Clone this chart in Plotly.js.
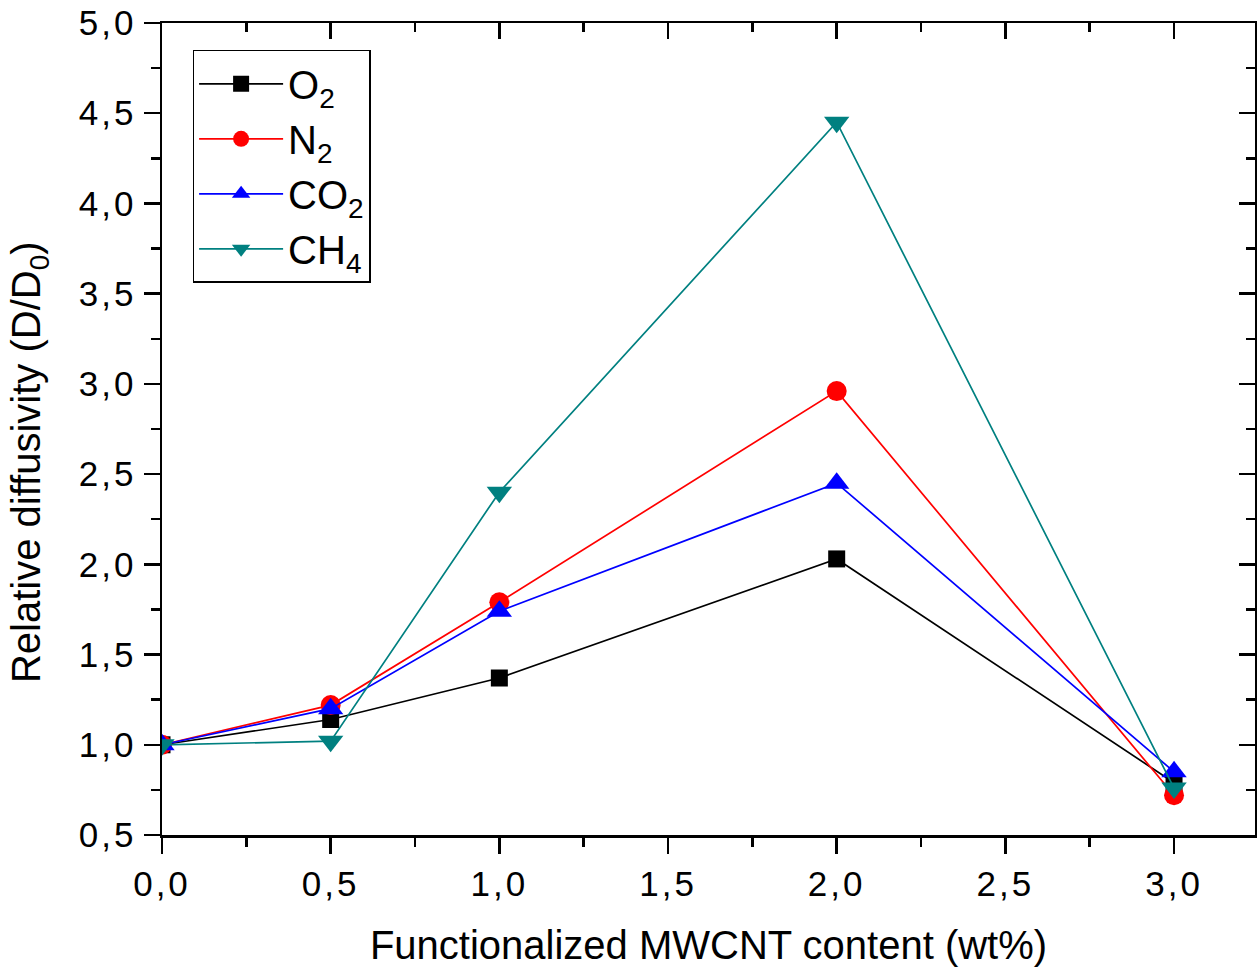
<!DOCTYPE html>
<html>
<head>
<meta charset="utf-8">
<script src="https://cdn.plot.ly/plotly-3.0.1.min.js"></script>
<style>
  html, body { margin: 0; padding: 0; background: #ffffff; }
  #chart { width: 1257px; height: 973px; }
  /* wider spacing for the numeric tick labels */
  #chart g.xtick text, #chart g.ytick text { letter-spacing: 3px; }
</style>
</head>
<body>
<div id="chart"></div>
<script>
// Functionalized MWCNT loading (wt%)
const content = [0, 0.5, 1.0, 2.0, 3.0];

// Relative diffusivity D/D0 for each gas
const o2  = [1.00, 1.14, 1.37, 2.03, 0.79];
const n2  = [1.00, 1.22, 1.79, 2.96, 0.72];
const co2 = [1.00, 1.20, 1.74, 2.45, 0.85];
const ch4 = [1.00, 1.02, 2.40, 4.45, 0.76];

const gasNames = ['O<sub>2</sub>', 'N<sub>2</sub>', 'CO<sub>2</sub>', 'CH<sub>4</sub>'];

const FONT = 'Liberation Sans, Arial, sans-serif';

function series(y, name, color, symbol, size) {
  return {
    x: content, y: y, name: name, type: 'scatter', mode: 'lines+markers',
    line: { color: color, width: 1.7 },
    marker: { color: color, symbol: symbol, size: size, line: { width: 0 } },
    cliponaxis: true
  };
}

const traces = [
  series(o2,  gasNames[0], '#000000', 'square', 17),
  series(n2,  gasNames[1], '#ff0000', 'circle', 20),
  series(co2, gasNames[2], '#0000ff', 'triangle-up', 22),
  series(ch4, gasNames[3], '#008080', 'triangle-down', 22),
  // empty trace that brings up the mirrored top/right frame axes
  { x: [], y: [], xaxis: 'x2', yaxis: 'y2', type: 'scatter', mode: 'markers',
    showlegend: false, hoverinfo: 'skip' }
];

const xRange = [0, 3.24];
const yRange = [0.5, 5.0];

const frame = {
  showline: true, linecolor: '#000000', linewidth: 2.5,
  showgrid: false, zeroline: false,
  ticklen: 16, tickwidth: 2.5, tickcolor: '#000000'
};

const layout = {
  width: 1257, height: 973,
  margin: { l: 162, r: 2, t: 23, b: 138 },
  paper_bgcolor: '#ffffff', plot_bgcolor: '#ffffff',
  separators: ', ',
  font: { family: FONT, color: '#000000', size: 30 },
  showlegend: true,
  xaxis: Object.assign({}, frame, {
    range: xRange, ticks: 'outside', dtick: 0.5, tick0: 0, tickformat: '.1f',
    tickfont: { family: FONT, size: 35 },
    minor: { ticks: 'outside', dtick: 0.25, tick0: 0, ticklen: 9, tickwidth: 2.5, tickcolor: '#000000' },
    title: { text: 'Functionalized MWCNT content (wt%)', font: { family: FONT, size: 40 }, standoff: 30 }
  }),
  yaxis: Object.assign({}, frame, {
    range: yRange, ticks: 'outside', dtick: 0.5, tick0: 0.5, tickformat: '.1f',
    tickfont: { family: FONT, size: 35 },
    minor: { ticks: 'outside', dtick: 0.25, tick0: 0.5, ticklen: 9, tickwidth: 2.5, tickcolor: '#000000' }
  }),
  xaxis2: Object.assign({}, frame, {
    overlaying: 'x', side: 'top', anchor: 'y2', range: xRange,
    ticks: 'inside', dtick: 0.5, tick0: 0, showticklabels: false,
    minor: { ticks: 'inside', dtick: 0.25, tick0: 0, ticklen: 9, tickwidth: 2.5, tickcolor: '#000000' }
  }),
  yaxis2: Object.assign({}, frame, {
    overlaying: 'y', side: 'right', anchor: 'x2', range: yRange,
    ticks: 'inside', dtick: 0.5, tick0: 0.5, showticklabels: false,
    minor: { ticks: 'inside', dtick: 0.25, tick0: 0.5, ticklen: 9, tickwidth: 2.5, tickcolor: '#000000' }
  }),
  // y-axis title, placed slightly below the plot's vertical centre
  annotations: [{
    text: 'Relative diffusivity (D/D<sub>0</sub>)',
    xref: 'paper', yref: 'paper', x: -0.121, y: 0.459,
    xanchor: 'center', yanchor: 'middle', textangle: -90, showarrow: false,
    font: { family: FONT, size: 40, color: '#000000' }
  }],
  legend: {
    x: 0.028, y: 0.967, xanchor: 'left', yanchor: 'top',
    bgcolor: '#ffffff', bordercolor: '#000000', borderwidth: 1.5,
    font: { family: FONT, size: 40, color: '#000000' },
    itemwidth: 84, tracegroupgap: 0
  }
};

Plotly.newPlot('chart', traces, layout, { displayModeBar: false, staticPlot: true });
</script>
</body>
</html>
